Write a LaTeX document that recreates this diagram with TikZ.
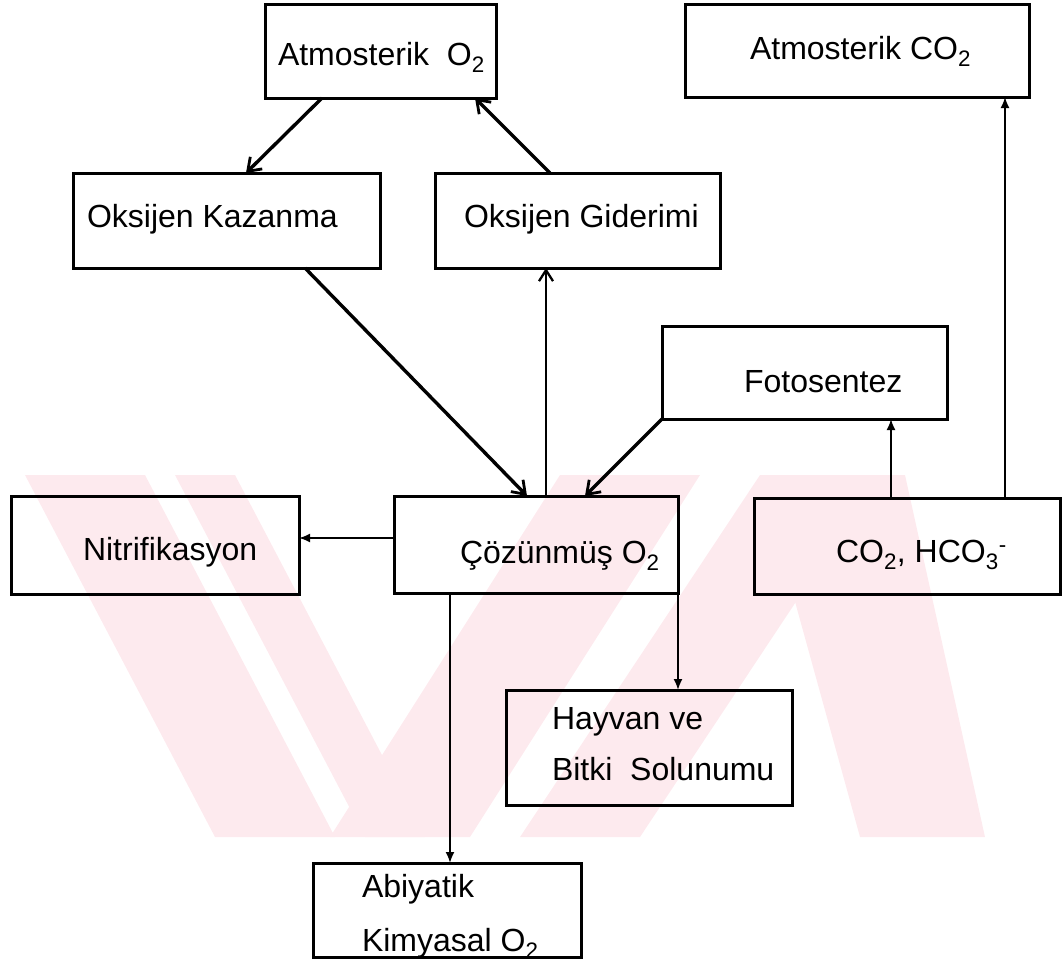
\documentclass[tikz,border=0pt]{standalone}
\usepackage{fontspec}
\setmainfont{Liberation Sans}
\usetikzlibrary{arrows.meta,calc}
\definecolor{wm}{RGB}{253,234,238}
\tikzset{
  box/.style={draw, line width=3pt, inner sep=0pt, outer sep=0pt, anchor=north west},
  txt/.style={anchor=base west, inner sep=0pt, outer sep=0pt, font=\fontsize{32}{38}\selectfont},
  bigarrow/.style={line width=3.4pt, -{Straight Barb[length=12pt,width=17pt,line width=2.8pt]}},
  midarrow/.style={line width=2.5pt, -{Straight Barb[length=11pt,width=14pt,line width=2.3pt]}},
  smallarrow/.style={line width=1.9pt, -{Latex[length=11pt,width=9pt]}},
}
\newcommand\dn[1]{\textsubscript{#1}}
\begin{document}
\begin{tikzpicture}[x=1pt,y=-1pt]
\useasboundingbox (0,0) rectangle (1064,964);
% watermark (approximation)
\fill[wm] (25,475) -- (145,475) -- (335,837) -- (215,837) -- cycle;
\fill[wm] (175,475) -- (235,475) -- (425,837) -- (365,837) -- cycle;
\fill[wm] (560,475) -- (700,475) -- (470,837) -- (330,837) -- cycle;
\fill[wm] (520,837) -- (640,837) -- (880,475) -- (760,475) -- cycle;
\fill[wm] (760,475) -- (905,475) -- (985,837) -- (860,837) -- cycle;
% boxes
\node[box, minimum width=231pt, minimum height=94pt] (ao) at (265,4) {};
\node[box, minimum width=344pt, minimum height=93pt] (ac) at (685,4) {};
\node[box, minimum width=307pt, minimum height=95pt] (kz) at (73,173) {};
\node[box, minimum width=285pt, minimum height=95pt] (gd) at (435,173) {};
\node[box, minimum width=285pt, minimum height=93pt] (fs) at (662,326) {};
\node[box, minimum width=288pt, minimum height=98pt] (nt) at (11,496) {};
\node[box, minimum width=284pt, minimum height=97pt] (cz) at (394,496) {};
\node[box, minimum width=306pt, minimum height=96pt] (co) at (754,498) {};
\node[box, minimum width=286pt, minimum height=115pt] (hv) at (506,690) {};
\node[box, minimum width=268pt, minimum height=94pt] (ab) at (313,863) {};
% texts
\node[txt] (tao) at (278,65) {Atmosterik\ \ O\dn{2}};
\node[txt] (tac) at (750,59) {Atmosterik CO\dn{2}};
\node[txt] (tkz) at (87,227) {Oksijen Kazanma};
\node[txt] (tgd) at (464,227) {Oksijen Giderimi};
\node[txt] (tfs) at (744,392) {Fotosentez};
\node[txt] (tnt) at (83,560) {Nitrifikasyon};
\node[txt] (tcz) at (460,563) {Çözünmüş O\dn{2}};
\node[txt] (tco) at (836,562) {CO\dn{2}, HCO\dn{3}\textsuperscript{-}};
\node[txt] (thv1) at (552,729) {Hayvan ve};
\node[txt] (thv2) at (552,780) {Bitki\ \ Solunumu};
\node[txt] (tab1) at (362,897) {Abiyatik};
\node[txt] (tab2) at (362,951) {Kimyasal O\dn{2}};
% connectors
\draw[bigarrow] ($(ao.south west)+(57,0)$) -- ($(kz.north west)+(173,0)$);
\draw[bigarrow] ($(gd.north west)+(115,0)$) -- ($(ao.south west)+(210,0)$);
\draw[bigarrow] ($(kz.south west)+(232,0)$) -- ($(cz.north west)+(133,0)$);
\draw[midarrow] ($(cz.north west)+(152,0)$) -- ($(gd.south west)+(111,0)$);
\draw[bigarrow] (fs.south west) -- ($(cz.north west)+(191,0)$);
\draw[smallarrow] ($(co.north west)+(137,0)$) -- ($(fs.south west)+(229,0)$);
\draw[smallarrow] ($(co.north west)+(251,0)$) -- ($(ac.south west)+(320,0)$);
\draw[smallarrow] ($(cz.north west)+(0,42)$) -- ($(nt.north east)+(0,42)$);
\draw[smallarrow] ($(cz.south west)+(56,0)$) -- ($(ab.north west)+(137,0)$);
\draw[smallarrow] (cz.south east) -- ($(hv.north west)+(172,0)$);
\end{tikzpicture}
\end{document}
